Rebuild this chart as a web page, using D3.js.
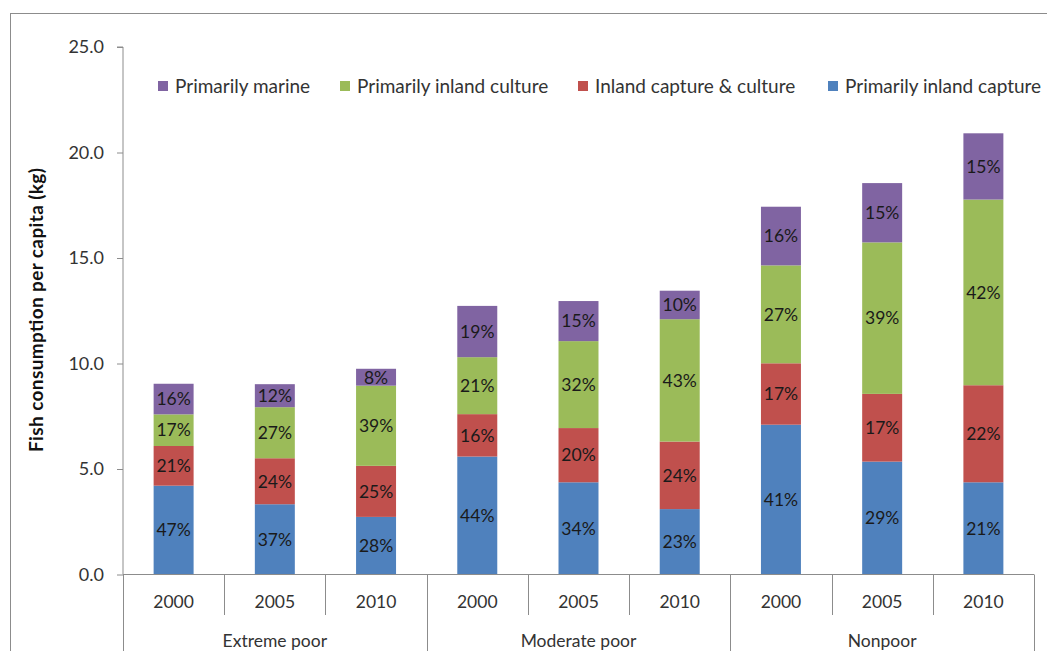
<!DOCTYPE html>
<html>
<head>
<meta charset="utf-8">
<script src="https://cdn.jsdelivr.net/npm/d3@7/dist/d3.min.js"></script>
<style>
  html, body { margin: 0; padding: 0; background: #fff; }
  svg { display: block; font-family: Lato, "Open Sans", sans-serif; }
</style>
</head>
<body>
<svg id="chart" width="1047" height="651"></svg>
<script>
// Poverty groups and survey years
const groups = ["Extreme poor", "Moderate poor", "Nonpoor"];
const years = ["2000", "2005", "2010"];

// Stack order, bottom to top
const seriesNames = ["Primarily inland capture", "Inland capture & culture", "Primarily inland culture", "Primarily marine"];
const seriesColors = ["#4F81BD", "#C0504D", "#9BBB59", "#8064A2"];

// Fish consumption per capita (kg), one entry per group/year bar
const inlandCapture = [4.21, 3.33, 2.73, 5.59, 4.37, 3.10, 7.10, 5.35, 4.37];
const captureCulture = [1.88, 2.18, 2.42, 2.01, 2.57, 3.20, 2.91, 3.21, 4.60];
const inlandCulture = [1.50, 2.42, 3.80, 2.70, 4.12, 5.80, 4.64, 7.18, 8.80];
const marine = [1.45, 1.09, 0.80, 2.43, 1.90, 1.35, 2.78, 2.81, 3.14];

// Legend order, left to right
const legendOrder = [3, 2, 1, 0];
const legendX = [158, 340, 578, 828];

const yTicks = [0, 5, 10, 15, 20, 25];

const svg = d3.select("#chart");

// outer chart frame
svg.append("rect")
  .attr("x", 10.5).attr("y", 13.5)
  .attr("width", 1100).attr("height", 700)
  .attr("fill", "none").attr("stroke", "#8c8c8c").attr("stroke-width", 1);

const plotLeft = 123, plotRight = 1034, plotTop = 47, plotBottom = 574.5;

const rows = [];
groups.forEach((g, gi) => years.forEach((yr, yi) => {
  const i = gi * 3 + yi;
  rows.push({
    key: g + "|" + yr, group: g, year: yr,
    "Primarily inland capture": inlandCapture[i],
    "Inland capture & culture": captureCulture[i],
    "Primarily inland culture": inlandCulture[i],
    "Primarily marine": marine[i]
  });
}));

const x = d3.scaleBand().domain(rows.map(d => d.key)).range([plotLeft, plotRight]).padding(0);
const barW = x.bandwidth() * 0.395;
const y = d3.scaleLinear().domain([0, 25]).range([plotBottom, plotTop]);

const stacked = d3.stack().keys(seriesNames)(rows);

// bars
const layer = svg.append("g").selectAll("g").data(stacked).join("g")
  .attr("fill", (d, i) => seriesColors[i]);

layer.selectAll("rect").data(d => d).join("rect")
  .attr("x", d => x(d.data.key) + x.bandwidth() / 2 - barW / 2)
  .attr("width", barW)
  .attr("y", d => y(d[1]))
  .attr("height", d => y(d[0]) - y(d[1]));

// percentage share labels
layer.selectAll("text").data(d => d).join("text")
  .attr("x", d => x(d.data.key) + x.bandwidth() / 2)
  .attr("y", d => (y(d[0]) + y(d[1])) / 2)
  .attr("dy", "0.36em")
  .attr("text-anchor", "middle")
  .attr("fill", "#1a1a1a")
  .attr("font-size", 17.5)
  .text(d => {
    const total = seriesNames.reduce((s, k) => s + d.data[k], 0);
    return Math.round((d[1] - d[0]) / total * 100) + "%";
  });

// y axis
const yAxis = svg.append("g")
  .attr("transform", `translate(${plotLeft},0)`)
  .call(d3.axisLeft(y).tickValues(yTicks).tickFormat(d3.format(".1f")).tickSize(6).tickPadding(13));
yAxis.select(".domain").attr("stroke", "#8c8c8c").attr("d", `M-6,${plotTop}H0V${plotBottom}`);
yAxis.selectAll(".tick line").attr("stroke", "#8c8c8c");
yAxis.selectAll(".tick text").attr("fill", "#333").attr("font-size", 18).attr("font-family", "Lato, 'Open Sans', sans-serif");

// y axis extends into the category area
svg.append("line")
  .attr("x1", plotLeft + 0.5).attr("x2", plotLeft + 0.5)
  .attr("y1", plotBottom).attr("y2", 651)
  .attr("stroke", "#8c8c8c");

// y axis title
svg.append("text")
  .attr("transform", "translate(43,310) rotate(-90)")
  .attr("text-anchor", "middle")
  .attr("font-weight", "bold")
  .attr("font-size", 19)
  .attr("textLength", 284)
  .attr("lengthAdjust", "spacing")
  .attr("fill", "#111")
  .text("Fish consumption per capita (kg)");

// category axis: baseline, year separators, group separators
const xAxisG = svg.append("g");
xAxisG.append("line")
  .attr("x1", plotLeft).attr("x2", plotRight)
  .attr("y1", plotBottom).attr("y2", plotBottom)
  .attr("stroke", "#8c8c8c");

rows.forEach((d, i) => {
  if (i === 0) return;
  const xx = Math.round(x(d.key)) + 0.5;
  const isGroup = i % 3 === 0;
  xAxisG.append("line")
    .attr("x1", xx).attr("x2", xx)
    .attr("y1", plotBottom).attr("y2", isGroup ? 651 : 615)
    .attr("stroke", "#8c8c8c");
});
xAxisG.append("line")
  .attr("x1", plotRight + 0.5).attr("x2", plotRight + 0.5)
  .attr("y1", plotBottom).attr("y2", 651)
  .attr("stroke", "#8c8c8c");

// year labels
xAxisG.selectAll("text.year").data(rows).join("text")
  .attr("class", "year")
  .attr("x", d => x(d.key) + x.bandwidth() / 2)
  .attr("y", 602)
  .attr("dy", "0.36em")
  .attr("text-anchor", "middle")
  .attr("font-size", 17.5)
  .attr("fill", "#333")
  .text(d => d.year);

// group labels
xAxisG.selectAll("text.group").data(groups).join("text")
  .attr("class", "group")
  .attr("x", (g, gi) => (x(rows[gi * 3].key) + x(rows[gi * 3 + 2].key) + x.bandwidth()) / 2)
  .attr("y", 646.5)
  .attr("text-anchor", "middle")
  .attr("font-size", 17.5)
  .attr("fill", "#333")
  .text(g => g);

// legend
const legend = svg.append("g");
legendOrder.forEach((si, li) => {
  const item = legend.append("g").attr("transform", `translate(${legendX[li]},86)`);
  item.append("rect")
    .attr("x", 0).attr("y", -5).attr("width", 10).attr("height", 10)
    .attr("fill", seriesColors[si]);
  item.append("text")
    .attr("x", 17).attr("y", 0).attr("dy", "0.36em")
    .attr("font-size", 19)
    .attr("fill", "#333")
    .text(seriesNames[si]);
});
</script>
</body>
</html>
